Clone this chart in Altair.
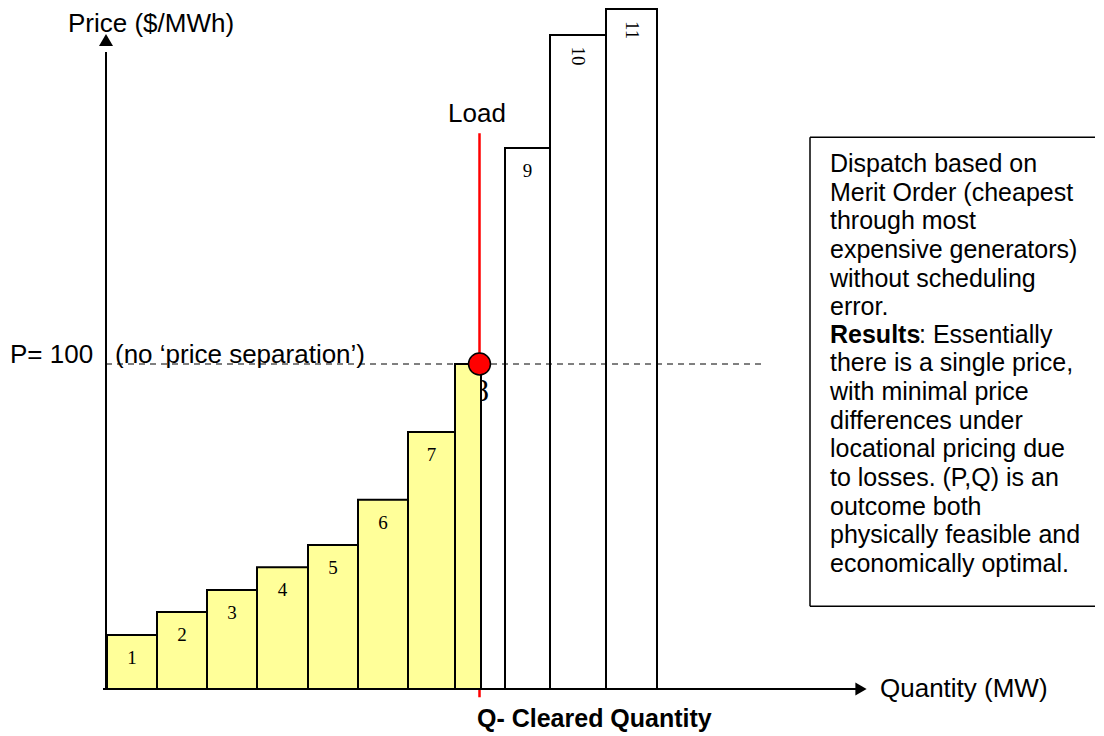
import altair as alt
import pandas as pd

# ---- data ----
generators = ["1", "2", "3", "4", "5", "6", "7", "8", "9", "10", "11"]
q_start = [2, 102, 202, 302, 404, 504, 604, 698, 798, 888, 1000]
q_end = [102, 202, 302, 404, 504, 604, 698, 750, 888, 1000, 1102]
offer_price = [16.6, 23.7, 30.5, 37.5, 44.3, 58.2, 79.1, 100, 166.5, 201.2, 209.2]
status = ["dispatched"] * 8 + ["idle"] * 3

clearing_price = 100
cleared_quantity = 747

box_lines_a = ["Dispatch based on", "Merit Order (cheapest", "through most",
               "expensive generators)", "without scheduling", "error."]
box_lines_b = ["there is a single price,", "with minimal price", "differences under",
               "locational pricing due", "to losses. (P,Q) is an", "outcome both",
               "physically feasible and", "economically optimal."]

bars = pd.DataFrame({"gen": generators, "q0": q_start, "q1": q_end,
                     "price": offer_price, "status": status})
bars["mid"] = (bars["q0"] + bars["q1"]) / 2

xs = alt.Scale(domain=[-196, 1980], nice=False, zero=False)
ys = alt.Scale(domain=[-14.46, 209.54], nice=False, zero=False)

SANS = "Liberation Sans"
SERIF = "Liberation Serif"


def X(f, t="quantitative"):
    return alt.X(f, type=t, scale=xs, axis=None)


def Y(f, t="quantitative"):
    return alt.Y(f, type=t, scale=ys, axis=None)


def pt(q, p, **extra):
    d = {"q": [q], "p": [p]}
    d.update({k: [v] for k, v in extra.items()})
    return alt.Chart(pd.DataFrame(d))


# dashed price line
dashed = pt(0, clearing_price, q2=1312).mark_rule(
    color="black", strokeWidth=1, strokeDash=[6, 5]
).encode(x=X("q"), x2="q2", y=Y("p"))

# load line
load_line = pt(cleared_quantity, -2.5, p2=171).mark_rule(
    color="#FF0000", strokeWidth=2.5
).encode(x=X("q"), y=Y("p"), y2="p2")

# big label 8 partly hidden by bar 8
label8 = pt(750, clearing_price, t="8").mark_text(
    font=SERIF, fontSize=32, align="center", baseline="middle", dy=27, color="black"
).encode(x=X("q"), y=Y("p"), text="t:N")

rects = alt.Chart(bars).mark_rect(stroke="black", strokeWidth=2).encode(
    x=X("q0"), x2="q1", y=Y("price"), y2=alt.datum(0),
    fill=alt.Fill("status:N", scale=alt.Scale(domain=["dispatched", "idle"],
                                               range=["#FFFF99", "#FFFFFF"]), legend=None),
)

labels = alt.Chart(bars).transform_filter(
    "indexof(['8','10','11'], datum.gen) < 0"
).mark_text(font=SERIF, fontSize=19, align="center", baseline="middle", dy=23,
            color="black").encode(x=X("mid"), y=Y("price"), text="gen:N")

labels_rot = alt.Chart(bars).transform_filter(
    "datum.gen == '10' || datum.gen == '11'"
).mark_text(font=SERIF, fontSize=19, align="center", baseline="middle", angle=90,
            dx=21, color="black").encode(x=X("mid"), y=Y("price"), text="gen:N")

# axes
y_axis = pt(0, 0, p2=196).mark_rule(color="black", strokeWidth=2).encode(
    x=X("q"), y=Y("p"), y2="p2")
x_axis = pt(-6, 0, q2=1500).mark_rule(color="black", strokeWidth=2).encode(
    x=X("q"), x2="q2", y=Y("p"))
y_arrow = pt(0, 199.7).mark_point(shape="triangle-up", size=196, filled=True,
                                  color="black", opacity=1).encode(x=X("q"), y=Y("p"))
x_arrow = pt(1510, 0).mark_point(shape="triangle-right", size=169, filled=True,
                                 color="black", opacity=1).encode(x=X("q"), y=Y("p"))

# clearing point
dot = pt(cleared_quantity, clearing_price).mark_point(
    shape="circle", size=480, filled=True, fill="#FF0000", stroke="black",
    strokeWidth=1.5, opacity=1
).encode(x=X("q"), y=Y("p"))


def label(q, p, txt, align="left", size=26, weight="normal", dx=0):
    return pt(q, p, t=txt).mark_text(
        font=SANS, fontSize=size, fontWeight=weight, align=align,
        baseline="alphabetic", color="black", dx=dx
    ).encode(x=X("q"), y=Y("p"), text="t:N")


txt_price = label(90, 202.2, "Price ($/MWh)", align="center")
txt_load = label(742, 174.5, "Load", align="center")
txt_p = label(-192, 100.3, "P= 100")
txt_sep = label(18, 100.3, "(no \u2018price separation\u2019)")
txt_qty = label(1548, -2.5, "Quantity (MW)")
txt_q = label(742, -11.6, "Q- Cleared Quantity", size=25, weight="bold")

# text box (open to the right edge of the page): three sides only
BOX_L, BOX_R, BOX_B, BOX_T = 1408, 1978, 25.5, 169.8
box_top = pt(BOX_L, BOX_T, q2=BOX_R).mark_rule(color="black", strokeWidth=1.5).encode(
    x=X("q"), x2="q2", y=Y("p"))
box_bot = pt(BOX_L, BOX_B, q2=BOX_R).mark_rule(color="black", strokeWidth=1.5).encode(
    x=X("q"), x2="q2", y=Y("p"))
box_left = pt(BOX_L, BOX_B, p2=BOX_T).mark_rule(color="black", strokeWidth=1.5).encode(
    x=X("q"), y=Y("p"), y2="p2")

block_a = pt(1448, 159.1, t="\n".join(box_lines_a)).mark_text(
    font=SANS, fontSize=25, align="left", baseline="alphabetic", lineBreak="\n",
    lineHeight=28.65, color="black").encode(x=X("q"), y=Y("p"), text="t:N")
res_bold = label(1448, 106.5, "Results", size=25, weight="bold")
res_rest = label(1448, 106.5, ": Essentially", size=25, dx=89)
block_b = pt(1448, 97.7, t="\n".join(box_lines_b)).mark_text(
    font=SANS, fontSize=25, align="left", baseline="alphabetic", lineBreak="\n",
    lineHeight=28.65, color="black").encode(x=X("q"), y=Y("p"), text="t:N")

chart = alt.layer(
    load_line, label8, rects, labels, labels_rot, dashed,
    y_axis, x_axis, y_arrow, x_arrow, dot,
    txt_price, txt_load, txt_p, txt_sep, txt_qty, txt_q,
    box_top, box_bot, box_left, block_a, res_bold, res_rest, block_b,
).properties(
    width=1088, height=728, padding=0, autosize=alt.AutoSizeParams(type="none")
).configure_view(stroke=None)

chart.save("out.html", embed_options={"renderer": "svg", "actions": False})
